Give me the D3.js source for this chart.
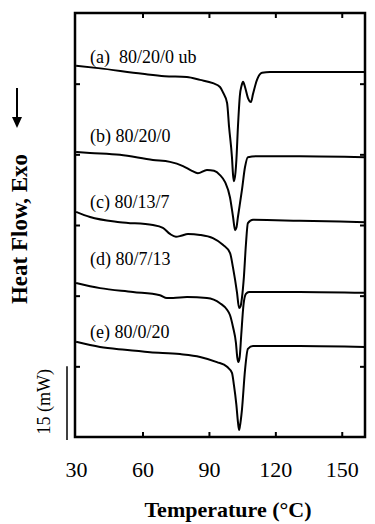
<!DOCTYPE html>
<html>
<head>
<meta charset="utf-8">
<script src="https://cdn.jsdelivr.net/npm/d3@7"></script>
<style>
	body { margin: 0; background: #fff; }
	svg { display: block; font-family: "Liberation Serif", "DejaVu Serif", serif; }
	.axis path { display: none; }
	.axis line { stroke: #000; stroke-width: 2; }
	.axis text { font-size: 22px; fill: #000; font-family: "Liberation Serif", serif; }
</style>
</head>
<body>
<svg id="chart"></svg>
<script>

// DSC traces, temperature (°C) vs heat flow (mW, offset per trace)
var curveA = [[30,78.8],[40,78.3],[60,77.1],[70,76.6],[80,76.4],[86,75.8],[91.8,75.1],[95,74.3],[96.3,73.2],[98.2,70.9],[99.1,65.8],[100.4,59.4],[100.9,55.6],[101.3,54.3],[102,56.2],[102.4,58.8],[103.1,65.8],[104,72.6],[104.7,74.5],[105.4,75.4],[106.3,74.3],[107.6,72.0],[109,71.1],[109.9,72.8],[111.7,75.8],[114,77.3],[117.6,77.5],[160.5,77.5]];
var curveB = [[30,60.5],[36.3,60.3],[49.8,59.9],[64.7,58.8],[72.4,58.4],[78.3,57.5],[82.3,56.5],[85,56.0],[89.1,56.7],[92.3,56.5],[95,55.6],[97.3,54.1],[99.5,50.9],[100.9,46.7],[101.8,43.9],[102.4,44.4],[103.1,46.7],[104.9,52.4],[106.3,57.3],[107.6,59.4],[111.7,59.6],[131,59.6],[160.5,59.4]];
var curveC = [[30,47.8],[36.3,46.7],[49.8,45.6],[64.7,45.0],[69.2,44.4],[72.4,43.1],[75.1,42.5],[77.4,42.7],[80.5,43.1],[86,42.9],[91.8,42.2],[96.3,40.8],[99.5,39.1],[100.9,35.9],[102.7,30.6],[103.6,27.4],[104.3,27.8],[104.9,29.5],[105.8,34.0],[106.7,40.8],[107.6,45.4],[109.9,46.1],[131,45.9],[160.5,45.6]];
var curveD = [[30,32.7],[40.8,31.6],[55.7,30.8],[67.9,30.1],[71,29.5],[73.8,29.5],[80.1,29.7],[89.1,29.5],[95,28.4],[98.2,27.0],[99.5,25.9],[100.9,23.3],[102.2,20.0],[102.8,16.9],[103.3,15.9],[103.9,17.0],[104.6,21.7],[105.6,28.0],[106.7,30.4],[108.1,30.8],[131,30.8],[160.5,30.6]];
var curveE = [[30,20.2],[40.8,19.1],[52.1,18.5],[63.4,18.0],[76.9,17.6],[86,17.0],[93.6,15.9],[98.2,14.9],[100.4,13.6],[101.3,11.0],[102.4,6.8],[103.1,3.2],[103.6,1.5],[104,2.3],[104.9,5.7],[106.3,14.2],[107.6,18.7],[109.9,19.3],[131,19.3],[160.5,19.1]];

var seriesNames = ['(a)  80/20/0 ub', '(b) 80/20/0', '(c) 80/13/7', '(d) 80/7/13', '(e) 80/0/20'];
// label anchors in data units [temperature, mW]
var labelPos = [[36.3,79.4],[36.3,62.6],[36.3,48.6],[36.3,36.5],[36.3,21.0]];

var xTicks = [30, 60, 90, 120, 150];
var yTicks = [15, 30, 45, 60, 75];
var scaleBar = 15; // mW

var W = 375, H = 524;
var mLeft = 75, mRight = 365, mTop = 13, mBottom = 437;

var svg = d3.select('#chart').attr('width', W).attr('height', H);

var x = d3.scaleLinear().domain([29.5, 160.5]).range([mLeft, mRight]);
var y = d3.scaleLinear().domain([0, 90]).range([mBottom, mTop]);

// axes, ticks pointing inward
svg.append('g').attr('class', 'axis')
	.attr('transform', 'translate(0,' + mBottom + ')')
	.call(d3.axisBottom(x).tickValues(xTicks).tickSize(-5).tickPadding(24))
	.selectAll('line').filter(function(d) { return d === 30; }).remove();

svg.append('g').attr('class', 'axis')
	.attr('transform', 'translate(0,' + mTop + ')')
	.call(d3.axisTop(x).tickValues(xTicks.slice(1)).tickSize(-5).tickFormat(''));

svg.append('g').attr('class', 'axis')
	.attr('transform', 'translate(' + mLeft + ',0)')
	.call(d3.axisLeft(y).tickValues(yTicks).tickSize(-5).tickFormat(''));

svg.append('g').attr('class', 'axis')
	.attr('transform', 'translate(' + mRight + ',0)')
	.call(d3.axisRight(y).tickValues(yTicks).tickSize(-5).tickFormat(''));

svg.append('rect')
	.attr('x', mLeft).attr('y', mTop)
	.attr('width', mRight - mLeft).attr('height', mBottom - mTop)
	.attr('fill', 'none').attr('stroke', '#000').attr('stroke-width', 2.5);

var line = d3.line()
	.x(function(d) { return x(d[0]); })
	.y(function(d) { return y(d[1]); })
	.curve(d3.curveMonotoneX);

var curves = [curveA, curveB, curveC, curveD, curveE];

svg.append('g').selectAll('path')
	.data(curves)
	.enter().append('path')
	.attr('d', line)
	.attr('fill', 'none')
	.attr('stroke', '#000')
	.attr('stroke-width', 2)
	.attr('stroke-linejoin', 'round');

svg.append('g').selectAll('text')
	.data(seriesNames)
	.enter().append('text')
	.attr('x', function(d, i) { return x(labelPos[i][0]); })
	.attr('y', function(d, i) { return y(labelPos[i][1]); })
	.attr('font-size', 18)
	.style('white-space', 'pre')
	.text(function(d) { return d; });

// 15 mW scale bar
svg.append('line')
	.attr('x1', 67).attr('x2', 67)
	.attr('y1', y(scaleBar)).attr('y2', y(0) + 3)
	.attr('stroke', '#000').attr('stroke-width', 1.5);

svg.append('text')
	.attr('transform', 'translate(50,' + ((y(scaleBar) + y(0)) / 2) + ') rotate(-90)')
	.attr('text-anchor', 'middle')
	.attr('font-size', 18)
	.text(scaleBar + ' (mW)');

// y title and arrow
svg.append('text')
	.attr('transform', 'translate(27,229) rotate(-90)')
	.attr('text-anchor', 'middle')
	.attr('font-size', 23)
	.attr('font-weight', 'bold')
	.text('Heat Flow, Exo');

svg.append('line')
	.attr('x1', 17).attr('x2', 17).attr('y1', 88).attr('y2', 118)
	.attr('stroke', '#000').attr('stroke-width', 2);

svg.append('path')
	.attr('d', 'M12,117 L22,117 L17,128 Z')
	.attr('fill', '#000');

// x title
svg.append('text')
	.attr('x', 228).attr('y', 517)
	.attr('text-anchor', 'middle')
	.attr('font-size', 22)
	.attr('font-weight', 'bold')
	.text('Temperature (°C)');

</script>
</body>
</html>
